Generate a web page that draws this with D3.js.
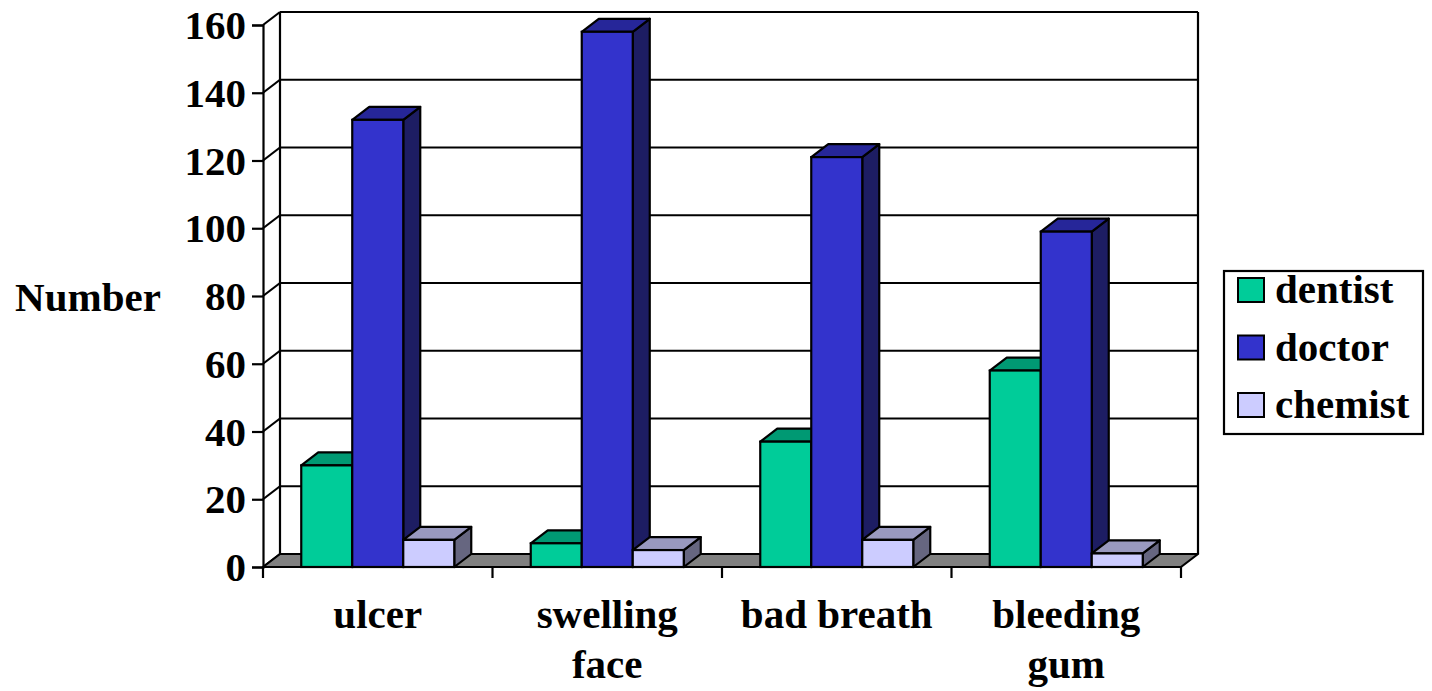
<!DOCTYPE html>
<html>
<head>
<meta charset="utf-8">
<script src="https://cdn.jsdelivr.net/npm/d3@7"></script>
<style>
  html, body { margin: 0; padding: 0; background: #fff; }
  svg { display: block; }
</style>
</head>
<body>
<svg id="chart" width="1432" height="691"></svg>
<script>
// Where people went for each dental complaint
const categories = ["ulcer", "swelling face", "bad breath", "bleeding gum"];
const categoryLines = [["ulcer"], ["swelling", "face"], ["bad breath"], ["bleeding", "gum"]];
const seriesNames = ["dentist", "doctor", "chemist"];
const dentist = [30, 7, 37, 58];
const doctor = [132, 158, 121, 99];
const chemist = [8, 5, 8, 4];
const yTicks = [0, 20, 40, 60, 80, 100, 120, 140, 160];

const seriesValues = [dentist, doctor, chemist];
const colors = {
  dentist: { front: "#00CC99", top: "#009973", side: "#006b50" },
  doctor:  { front: "#3333CC", top: "#262699", side: "#1d1d63" },
  chemist: { front: "#CCCCFF", top: "#9999BF", side: "#666680" }
};

const FONT = '"Liberation Serif", "Times New Roman", Times, serif';
const fs = 41;
const styleText = sel => sel.style("font-family", FONT).style("font-weight", "bold")
  .style("font-size", fs + "px").style("fill", "#000");

const svg = d3.select("#chart");

// front plane geometry and depth offset of the 3D box
const x0 = 263, x1 = 1181;
const dx = 17, dy = -13;

const x = d3.scaleBand().domain(categories).range([x0, x1]);
const xs = d3.scaleBand().domain(seriesNames).range([0, x.bandwidth()]).paddingInner(0).paddingOuter(0.75);
const y = d3.scaleLinear().domain([0, 160]).range([567, 25]);

const g = svg.append("g");

// back wall gridlines and side wall diagonals
yTicks.forEach(t => {
  const yf = y(t);
  if (t > 0) {
    g.append("line").attr("x1", x0 + dx).attr("x2", x1 + dx).attr("y1", yf + dy).attr("y2", yf + dy)
      .attr("stroke", "#000").attr("stroke-width", 2.2);
  }
  g.append("line").attr("x1", x0).attr("y1", yf).attr("x2", x0 + dx).attr("y2", yf + dy)
    .attr("stroke", "#000").attr("stroke-width", 2.2);
});
// back wall vertical edges
[x0 + dx, x1 + dx].forEach(xx => {
  g.append("line").attr("x1", xx).attr("x2", xx).attr("y1", y(160) + dy).attr("y2", y(0) + dy)
    .attr("stroke", "#000").attr("stroke-width", 2.2);
});

// floor
g.append("polygon")
  .attr("points", [[x0, y(0)], [x1, y(0)], [x1 + dx, y(0) + dy], [x0 + dx, y(0) + dy]].map(p => p.join(",")).join(" "))
  .attr("fill", "#808080").attr("stroke", "#000").attr("stroke-width", 2.2).attr("stroke-linejoin", "round");

// value axis (front)
const yAxis = d3.axisLeft(y).tickValues(yTicks).tickSize(11).tickFormat(d3.format("d"));
const ya = g.append("g").attr("transform", `translate(${x0},0)`).call(yAxis);
ya.select(".domain").attr("stroke", "#000").attr("stroke-width", 2.2);
ya.selectAll(".tick line").attr("stroke", "#000").attr("stroke-width", 2.2);
ya.selectAll(".tick text").attr("x", -17).attr("dy", null).attr("y", 0.33 * fs).call(styleText);

// category axis ticks at band boundaries
const bounds = categories.map(c => x(c)).concat([x1]);
g.append("line").attr("x1", x0).attr("x2", x1).attr("y1", y(0)).attr("y2", y(0)).attr("stroke", "#000").attr("stroke-width", 2.2);
bounds.forEach(b => {
  g.append("line").attr("x1", b).attr("x2", b).attr("y1", y(0)).attr("y2", y(0) + 11).attr("stroke", "#000").attr("stroke-width", 2.2);
});

// bars, drawn left to right so nearer faces cover hidden sides
const bars = g.append("g");
const pts = a => a.map(p => p.join(",")).join(" ");
categories.forEach((c, ci) => {
  seriesNames.forEach((s, si) => {
    const v = seriesValues[si][ci];
    const bx = x(c) + xs(s), bw = xs.bandwidth();
    const yt = y(v), yb = y(0);
    const col = colors[s];
    bars.append("polygon").attr("points", pts([[bx + bw, yt], [bx + bw + dx, yt + dy], [bx + bw + dx, yb + dy], [bx + bw, yb]]))
      .attr("fill", col.side).attr("stroke", "#000").attr("stroke-width", 2.2).attr("stroke-linejoin", "round");
    bars.append("polygon").attr("points", pts([[bx, yt], [bx + dx, yt + dy], [bx + bw + dx, yt + dy], [bx + bw, yt]]))
      .attr("fill", col.top).attr("stroke", "#000").attr("stroke-width", 2.2).attr("stroke-linejoin", "round");
    bars.append("rect").attr("x", bx).attr("y", yt).attr("width", bw).attr("height", yb - yt)
      .attr("fill", col.front).attr("stroke", "#000").attr("stroke-width", 2.2);
  });
});

// category labels
categories.forEach((c, ci) => {
  const cx = x(c) + x.bandwidth() / 2;
  const t = g.append("text").attr("x", cx).attr("y", 628).attr("text-anchor", "middle").call(styleText);
  categoryLines[ci].forEach((ln, li) => {
    t.append("tspan").attr("x", cx).attr("y", 628 + li * 50).text(ln);
  });
});

// axis title
g.append("text").attr("x", 88).attr("y", 311).attr("text-anchor", "middle").call(styleText).text("Number");

// legend
const lg = svg.append("g");
lg.append("rect").attr("x", 1224).attr("y", 271).attr("width", 199).attr("height", 163)
  .attr("fill", "#fff").attr("stroke", "#000").attr("stroke-width", 2.2);
seriesNames.forEach((s, i) => {
  const cy = 290 + i * 57.5;
  lg.append("rect").attr("x", 1238).attr("y", cy - 12).attr("width", 26).attr("height", 24)
    .attr("fill", colors[s].front).attr("stroke", "#000").attr("stroke-width", 2);
  lg.append("text").attr("x", 1275).attr("y", cy + 13).call(styleText).text(s);
});
</script>
</body>
</html>
